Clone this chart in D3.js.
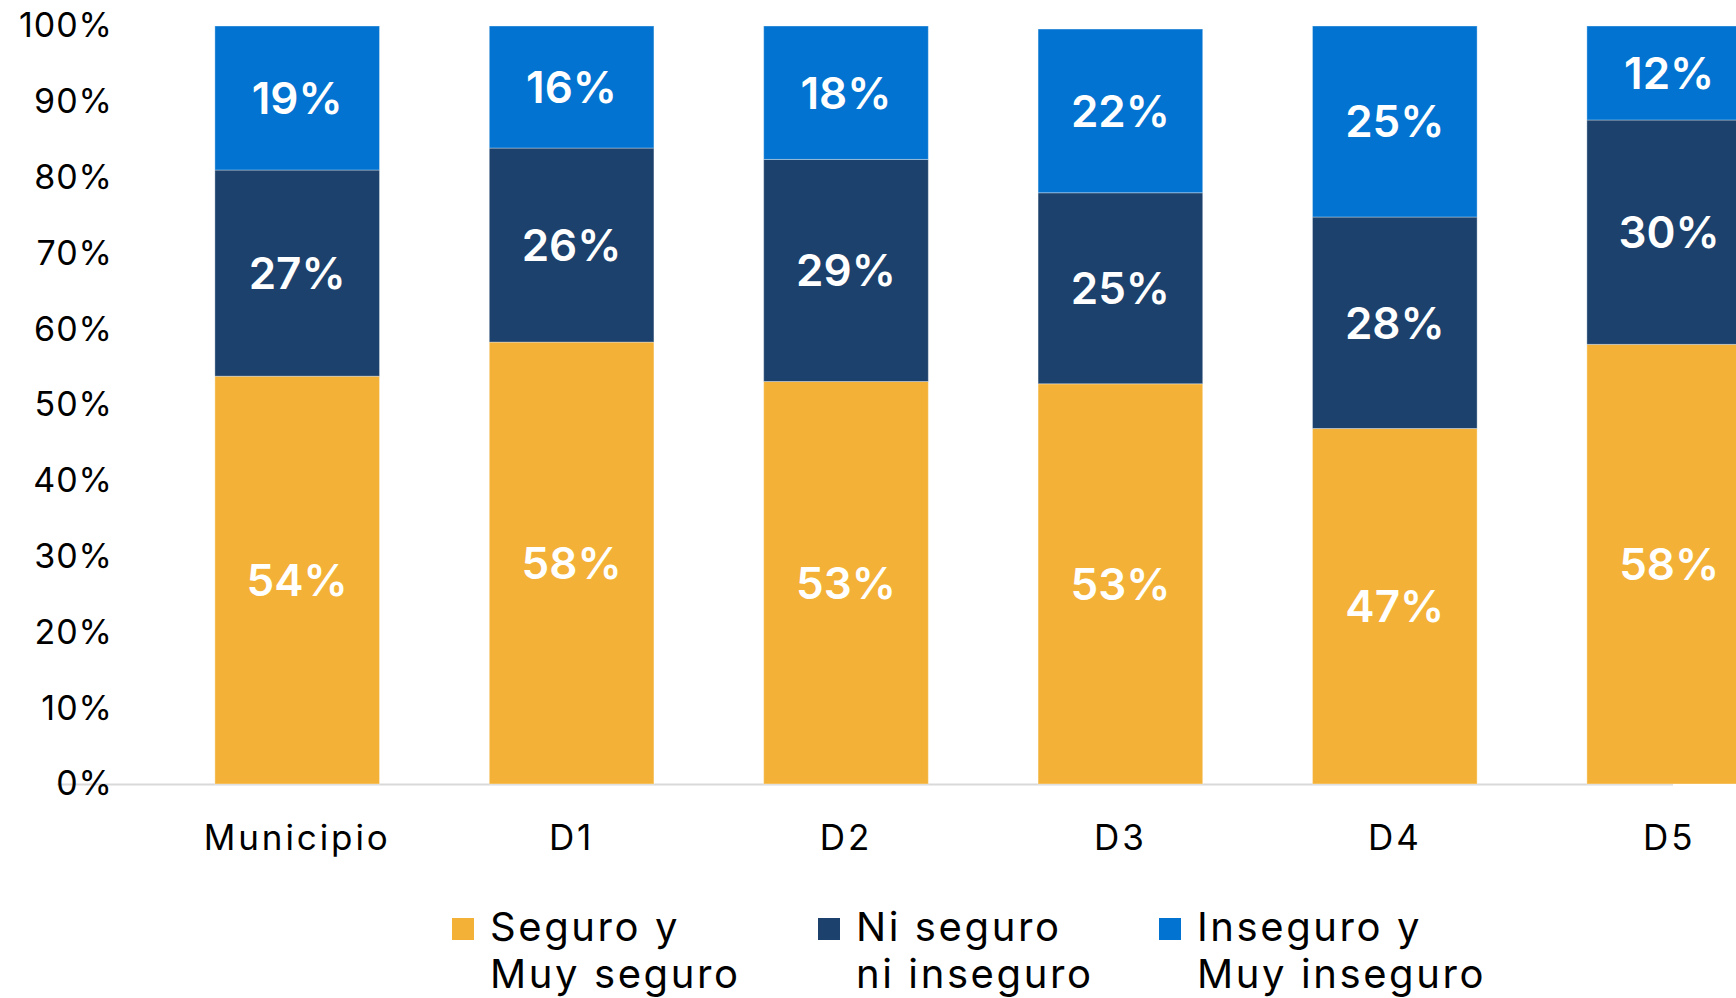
<!DOCTYPE html>
<html>
<head>
<meta charset="utf-8">
<script src="https://cdn.jsdelivr.net/npm/d3@7"></script>
<style>
  body { margin: 0; background: #fff; }
  svg { display: block; font-family: Inter, "Noto Sans", sans-serif; }
</style>
</head>
<body>
<div id="chart"></div>
<script>
// data (percent of each column)
var categories = ["Municipio", "D1", "D2", "D3", "D4", "D5"];
var seguro     = [53.8, 58.3, 53.1, 52.8, 46.9, 58.0];
var niSeguro   = [27.2, 25.6, 29.3, 25.2, 27.9, 29.6];
var inseguro   = [19.0, 16.1, 17.6, 21.6, 25.2, 12.4];
var seriesKeys = ["seguro", "niSeguro", "inseguro"];
var seriesNames = [["Seguro y", "Muy seguro"], ["Ni seguro", "ni inseguro"], ["Inseguro y", "Muy inseguro"]];
var colors = ["#F3B237", "#1B416C", "#0273D0"];
var yTicks = [0, 10, 20, 30, 40, 50, 60, 70, 80, 90, 100];

var width = 1736, height = 998;

var svg = d3.select("#chart").append("svg")
    .attr("width", width)
    .attr("height", height);

// build rows for the stack
var rows = categories.map(function(c, i) {
  return {cat: c, seguro: seguro[i], niSeguro: niSeguro[i], inseguro: inseguro[i]};
});
var stacked = d3.stack().keys(seriesKeys)(rows);

// scales
var x = d3.scaleBand()
    .domain(categories)
    .range([160, 160 + 6 * 274.4])
    .paddingInner(0.4)
    .paddingOuter(0.2);
var y = d3.scaleLinear().domain([0, 100]).range([784, 26]);

// baseline
svg.append("line")
    .attr("x1", 57)
    .attr("x2", 1673)
    .attr("y1", y(0) + 0.5)
    .attr("y2", y(0) + 0.5)
    .style("stroke", "#D9D9D9")
    .style("stroke-width", 2);

// y axis
var yAxis = svg.append("g")
    .attr("transform", "translate(113,0)")
    .call(d3.axisLeft(y)
      .tickValues(yTicks)
      .tickFormat(function(d) { return d + "%"; })
      .tickSize(0)
      .tickPadding(0));
yAxis.select(".domain").remove();
yAxis.selectAll("text")
    .style("font-size", "34px")
    .style("font-family", "Inter, sans-serif")
    .style("letter-spacing", "1px")
    .style("fill", "#000");

// x axis
var xAxis = svg.append("g")
    .attr("transform", "translate(0," + y(0) + ")")
    .call(d3.axisBottom(x).tickSize(0).tickPadding(41));
xAxis.select(".domain").remove();
xAxis.selectAll("text")
    .style("font-size", "35px")
    .style("font-family", "Inter, sans-serif")
    .style("letter-spacing", "2.9px")
    .style("fill", "#000");

// bars
var layers = svg.selectAll(".layer")
    .data(stacked)
    .enter()
    .append("g")
    .attr("class", "layer")
    .style("fill", function(d, i) { return colors[i]; });

layers.selectAll("rect")
    .data(function(d) { return d; })
    .enter()
    .append("rect")
    .attr("x", function(d) { return x(d.data.cat); })
    .attr("y", function(d) { return y(d[1]); })
    .attr("width", x.bandwidth())
    .attr("height", function(d) { return y(d[0]) - y(d[1]); })
    .style("stroke", "#fff")
    .style("stroke-opacity", 0.35)
    .style("stroke-width", 1);

// value labels
layers.selectAll("text")
    .data(function(d) { return d; })
    .enter()
    .append("text")
    .attr("x", function(d) { return x(d.data.cat) + x.bandwidth() / 2; })
    .attr("y", function(d) { return (y(d[0]) + y(d[1])) / 2; })
    .attr("dy", "0.36em")
    .attr("text-anchor", "middle")
    .style("fill", "#fff")
    .style("font-size", "44px")
    .style("font-weight", 600)
    .text(function(d) { return Math.round(d[1] - d[0]) + "%"; });

// legend
var legendX = [452, 818, 1159];
var legend = svg.selectAll(".legend")
    .data(seriesNames)
    .enter()
    .append("g")
    .attr("class", "legend")
    .attr("transform", function(d, i) { return "translate(" + legendX[i] + ",918)"; });

legend.append("rect")
    .attr("width", 22)
    .attr("height", 22)
    .style("fill", function(d, i) { return colors[i]; });

legend.append("text")
    .attr("x", 38)
    .attr("y", 23)
    .style("font-size", "40px")
    .style("letter-spacing", "2.6px")
    .style("fill", "#000")
    .selectAll("tspan")
    .data(function(d) { return d; })
    .enter()
    .append("tspan")
    .attr("x", 38)
    .attr("dy", function(d, i) { return i === 0 ? 0 : 47; })
    .text(function(d) { return d; });
</script>
</body>
</html>
